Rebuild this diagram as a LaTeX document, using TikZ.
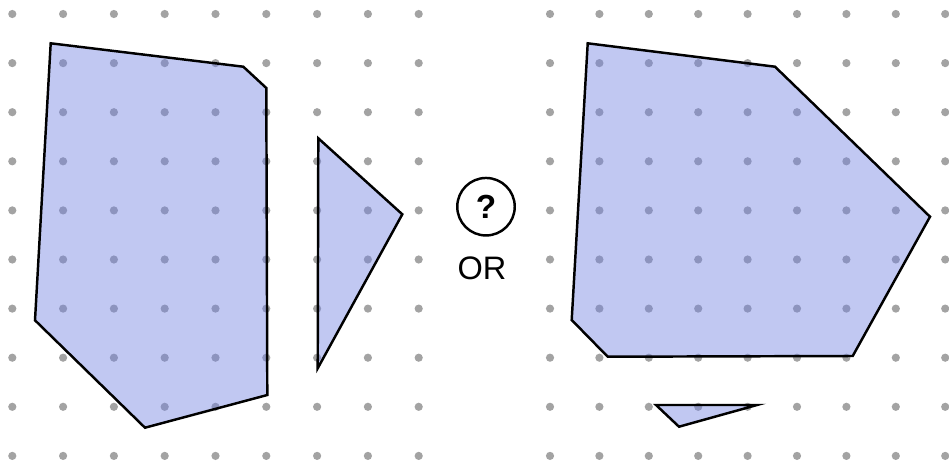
\documentclass[tikz,border=0pt]{standalone}
\usepackage{fontspec}
\setmainfont{Liberation Sans}
\usepackage{tikz}
\usetikzlibrary{positioning}
\definecolor{dotgray}{HTML}{A3A3A3}
\definecolor{shapeblue}{RGB}{114,130,225}

\begin{document}
\begin{tikzpicture}[x=0.02cm, y=-0.02cm, font=\fontsize{18.5}{22}\selectfont,
  piece/.style={draw=black, line width=1.4pt, line join=miter, fill=shapeblue, fill opacity=0.44, draw opacity=1}]
  \useasboundingbox (0,0) rectangle (949,463);
  % dot grid (left side)
  \foreach \i in {0,...,8} {
    \foreach \k in {0,...,9} {
      \fill[dotgray] (12.3+50.8*\i, 14+49.1*\k) circle (4.1);
    }
  }
  % dot grid (right side)
  \foreach \j in {0,...,8} {
    \foreach \k in {0,...,9} {
      \fill[dotgray] (550+49.4*\j, 14+49.1*\k) circle (4.1);
    }
  }
  % left: two pieces
  \draw[piece] (50.7,43.3) -- (243.3,66.7) -- (266.3,88) -- (267.3,395) -- (145,427.7) -- (35,320.3) -- cycle;
  \draw[piece] (318.3,138.3) -- (402.3,214.3) -- (317.7,368.3) -- cycle;
  % right: two pieces
  \draw[piece] (587.7,43.3) -- (775,66.7) -- (930,216.7) -- (852.7,356) -- (607.7,356.7) -- (571.7,320) -- cycle;
  \draw[piece] (656,405) -- (757,405) -- (679,426.7) -- cycle;
  % question in the middle
  \node[circle, draw, line width=1.4pt, minimum size=1.15cm, inner sep=0pt, font=\fontsize{19}{22}\selectfont\bfseries] (ask) at (486,206.7) {?};
  \node (or) at (482,268) {OR};
\end{tikzpicture}
\end{document}
